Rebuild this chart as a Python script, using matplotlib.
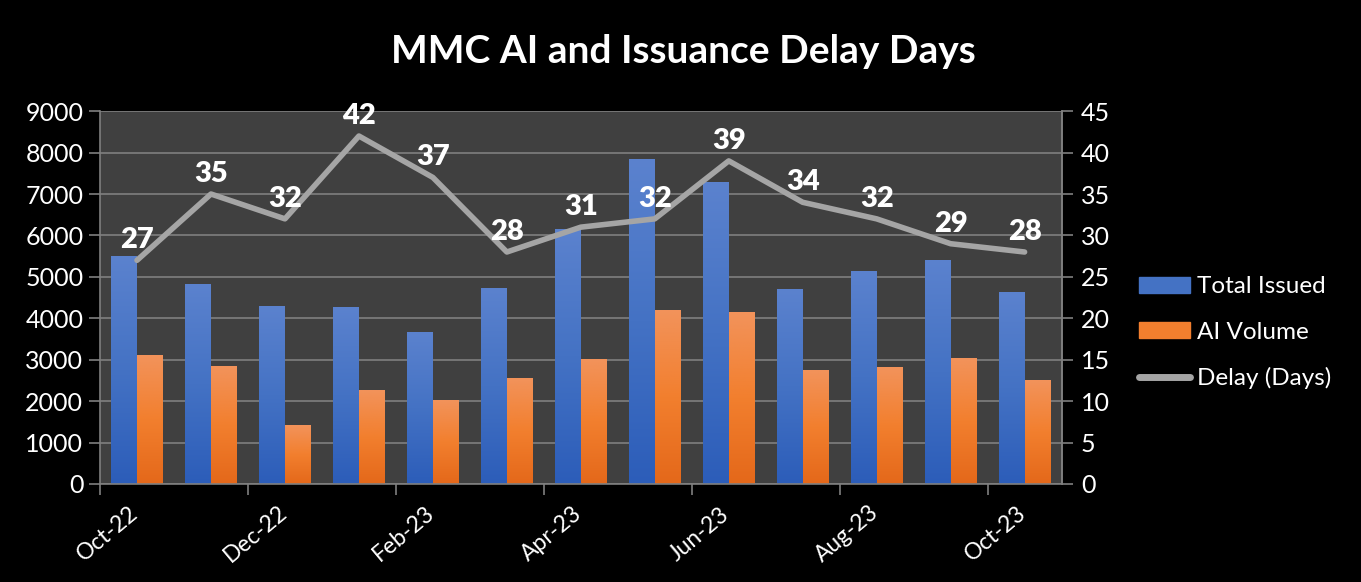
import matplotlib.pyplot as plt
from matplotlib.colors import LinearSegmentedColormap
from matplotlib.lines import Line2D
from matplotlib.patches import Patch
import numpy as np

months = ["Oct-22", "Nov-22", "Dec-22", "Jan-23", "Feb-23", "Mar-23", "Apr-23",
          "May-23", "Jun-23", "Jul-23", "Aug-23", "Sep-23", "Oct-23"]
total_issued = [5480, 4820, 4290, 4270, 3665, 4725, 6140,
                7840, 7285, 4700, 5135, 5400, 4630]
ai_volume = [3110, 2845, 1420, 2265, 2025, 2555, 3015,
             4195, 4150, 2750, 2820, 3040, 2510]
delay_days = [27, 35, 32, 42, 37, 28, 31, 32, 39, 34, 32, 29, 28]

FONT = "Lato"
plt.rcParams["font.family"] = [FONT, "DejaVu Sans"]

blue_cmap = LinearSegmentedColormap.from_list("blue", ["#2C5DB9", "#4472C4", "#5B82CE"])
orange_cmap = LinearSegmentedColormap.from_list("orange", ["#E4681A", "#F27F2E", "#F2935B"])
grid_col = "#7F7F7F"

fig = plt.figure(figsize=(13.61, 5.82), dpi=100, facecolor="black")
ax = fig.add_axes([0.0735, 0.1684, 0.7065, 0.6406])
ax.set_facecolor("#404040")

x = np.arange(len(months))
w = 0.35
bars_t = ax.bar(x - w / 2, total_issued, w, color="#4472C4", zorder=2)
bars_a = ax.bar(x + w / 2, ai_volume, w, color="#F27F2E", zorder=2)

# vertical gradient fill on each bar, like the Excel original
grad = np.linspace(0, 1, 256).reshape(-1, 1)
for bars, cmap in ((bars_t, blue_cmap), (bars_a, orange_cmap)):
    for b in bars:
        x0, h = b.get_x(), b.get_height()
        ax.imshow(grad, cmap=cmap, origin="lower", aspect="auto",
                  extent=[x0, x0 + b.get_width(), 0, h], zorder=2.5)

ax.set_xlim(-0.5, len(months) - 0.5)
ax.set_ylim(0, 9000)
ax.set_yticks(np.arange(0, 9001, 1000))
ax.yaxis.grid(True, color=grid_col, linewidth=1.2, zorder=1)
ax.set_axisbelow(True)

# tick marks sit on month boundaries; the rotated labels sit just right of them
ax.set_xticks(x[::2] - 0.5, [""] * len(x[::2]))
ax.set_xticks(x[::2] - 0.4, months[::2], minor=True)
for lbl in ax.get_xticklabels(minor=True):
    lbl.set_rotation(40)
    lbl.set_rotation_mode("anchor")
    lbl.set_ha("center")
    lbl.set_va("center")

ax.spines["top"].set_visible(False)
for s in ["left", "bottom", "right"]:
    ax.spines[s].set_color(grid_col)
    ax.spines[s].set_linewidth(1.2)

ax.tick_params(axis="y", colors=grid_col, labelcolor="white", labelsize=18,
               length=8, width=1.2, pad=4)
ax.tick_params(axis="x", which="major", colors=grid_col, length=8, width=1.2)
ax.tick_params(axis="x", which="minor", labelcolor="white", labelsize=16.5,
               length=0, pad=36)

ax2 = ax.twinx()
ax2.plot(x, delay_days, color="#A5A5A5", linewidth=4, solid_capstyle="round",
         solid_joinstyle="round", zorder=3)
ax2.set_ylim(0, 45)
ax2.set_yticks(np.arange(0, 46, 5))
ax2.tick_params(axis="y", colors=grid_col, labelcolor="white", labelsize=18,
                length=8, width=1.2, pad=6)
for s in ["top", "left", "bottom"]:
    ax2.spines[s].set_visible(False)
ax2.spines["right"].set_color(grid_col)
ax2.spines["right"].set_linewidth(1.2)

for i, v in zip(x, delay_days):
    ax2.annotate(str(v), (i, v), xytext=(0, 5), textcoords="offset points",
                 ha="center", va="bottom", color="white", fontsize=21,
                 fontweight="heavy", zorder=5)

fig.suptitle("MMC AI and Issuance Delay Days", color="white", fontsize=28,
             fontweight="bold", x=0.502, y=0.911, va="center")

handles = [Patch(color="#4472C4"), Patch(color="#F27F2E"),
           Line2D([0], [0], color="#A5A5A5", linewidth=5, solid_capstyle="round")]
fig.legend(handles, ["Total Issued", "AI Volume", "Delay (Days)"],
           loc="upper left", bbox_to_anchor=(0.837, 0.525), frameon=False,
           fontsize=17.5, labelcolor="white", handlelength=2.1, handleheight=0.6,
           handletextpad=0.3, labelspacing=1.0, borderpad=0, borderaxespad=0)

fig.savefig("out.png", dpi=100, facecolor="black")
